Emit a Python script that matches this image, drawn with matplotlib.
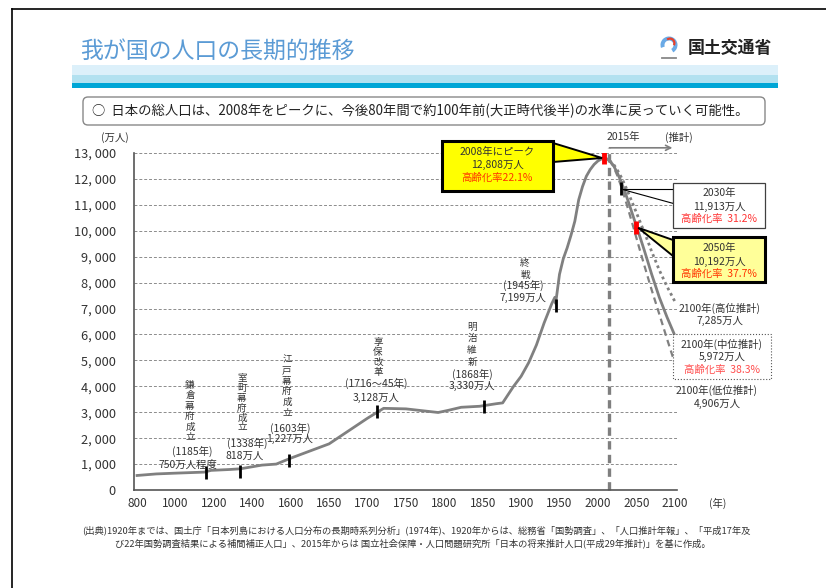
import matplotlib
matplotlib.use("Agg")
import matplotlib.pyplot as plt
import numpy as np
from matplotlib.lines import Line2D
from matplotlib.patches import FancyBboxPatch, Polygon, Rectangle, Wedge
from matplotlib.transforms import Affine2D

plt.rcParams['font.family'] = ['Noto Sans CJK JP', 'DejaVu Sans']

# x axis: the chart spaces these years evenly
tick_years = [800, 1000, 1200, 1400, 1600, 1650, 1700, 1750, 1800, 1850,
              1900, 1950, 2000, 2050, 2100]
y_ticks = list(range(0, 14000, 1000))

# population (万人)
hist_years = [800, 900, 1000, 1150, 1185, 1280, 1338, 1450, 1525, 1600, 1650,
              1700, 1721, 1750, 1792, 1804, 1822, 1846, 1868, 1876, 1890, 1900,
              1910, 1920, 1930, 1940, 1944, 1945, 1950, 1955, 1960, 1965, 1970,
              1975, 1980, 1985, 1990, 1995, 2000, 2005, 2008, 2010, 2015]
hist_pop = [560, 620, 650, 690, 757, 790, 818, 960, 1000, 1227, 1780,
            2769, 3150, 3130, 2990, 3065, 3191, 3230, 3330, 3360, 3990, 4385,
            4918, 5596, 6445, 7193, 7433, 7199, 8320, 8928, 9342, 9828, 10372,
            11194, 11706, 12105, 12361, 12557, 12693, 12777, 12808, 12806, 12709]

proj_years = [2015, 2020, 2025, 2030, 2035, 2040, 2045, 2050, 2055, 2060,
              2065, 2070, 2080, 2090, 2100]
proj_mid = [12709, 12532, 12254, 11913, 11522, 11092, 10642, 10192, 9744, 9284,
            8808, 8323, 7430, 6668, 5972]
proj_high = [12709, 12580, 12360, 12090, 11780, 11430, 11070, 10710, 10340, 9970,
             9600, 9200, 8480, 7850, 7285]
proj_low = [12709, 12490, 12150, 11740, 11270, 10770, 10260, 9740, 9220, 8710,
            8213, 7720, 6780, 5830, 4906]

# historical events (tick position on the line)
event_years = [1160, 1338, 1590, 1712, 1852, 1945]
event_pop = [757, 818, 1227, 3128, 3330, 7199]
event_names = ["鎌倉幕府成立", "室町幕府成立", "江戸幕府成立", "享保改革", "明治維新", "終戦"]
event_dates = ["(1185年)", "(1338年)", "(1603年)", "(1716～45年)", "(1868年)", "(1945年)"]
event_values = ["750万人程度", "818万人", "1,227万人", "3,128万人", "3,330万人", "7,199万人"]

peak_year, peak_pop = 2008, 12808
mark_years = [2030, 2050]
mark_pop = [11913, 10192]

W, H = 826, 588
fig = plt.figure(figsize=(W / 100, H / 100), dpi=100)
fig.patch.set_facecolor('white')
# pixel coords, origin top-left
pix = Affine2D().scale(1 / W, -1 / H).translate(0, 1) + fig.transFigure

TXT = '#333333'


def put(x, y, s, size=7.5, color=TXT, ha='center', **kw):
    fig.text(x, y, s, transform=pix, ha=ha, va='center', fontsize=size,
             color=color, **kw)


ax = fig.add_axes([134 / W, 1 - 490 / H, 543 / W, 337 / H])

ext_years = np.array([600] + tick_years + [2150], dtype=float)
ext_idx = np.arange(-1, len(tick_years) + 1, dtype=float)


def fwd(x):
    return np.interp(x, ext_years, ext_idx)


def inv(i):
    return np.interp(i, ext_idx, ext_years)


ax.set_xscale('function', functions=(fwd, inv))
ax.set_xlim(784, 2103)
ax.set_ylim(0, 13000)
ax.set_xticks(tick_years)
ax.set_xticklabels([str(y) for y in tick_years])
ax.set_yticks(y_ticks)
ax.set_yticklabels([f"{v:,}".replace(',', ', ') for v in y_ticks])
ax.tick_params(axis='both', length=0, colors=TXT)
ax.tick_params(axis='y', pad=13, labelsize=9.2)
ax.tick_params(axis='x', pad=5, labelsize=8.5)
ax.minorticks_off()
for s in ['top', 'right']:
    ax.spines[s].set_visible(False)
for s in ['left', 'bottom']:
    ax.spines[s].set_color('#555555')
    ax.spines[s].set_linewidth(1.2)
ax.grid(axis='y', color='#8c8c8c', lw=0.7, ls=(0, (3, 2)))
ax.set_axisbelow(True)

line_c = '#808080'
ax.plot(hist_years, hist_pop, color=line_c, lw=2, zorder=3)
ax.plot(proj_years, proj_high, color=line_c, lw=2, ls=(0, (1, 1.2)), zorder=3)
ax.plot(proj_years, proj_low, color=line_c, lw=1.6, ls=(0, (3, 2)), zorder=3)
ax.plot(proj_years, proj_mid, color=line_c, lw=2, zorder=3)

# 2015 boundary
ax.plot([2015, 2015], [0, 13200], color='#7f7f7f', lw=2.4,
        ls=(0, (2.5, 1.6)), clip_on=False, zorder=2)
ax.annotate('', xy=(2097, 13200), xytext=(2015, 13200),
            arrowprops=dict(arrowstyle='->', color='#7f7f7f', lw=1.2,
                            mutation_scale=9, shrinkA=0, shrinkB=0),
            annotation_clip=False)

ev = np.array(event_pop)
ax.vlines(event_years, ev - 350, ev + 150, color='black', lw=2, zorder=4)
ax.vlines([peak_year, mark_years[1]], [peak_pop - 250, mark_pop[1] - 330],
          [peak_pop + 250, mark_pop[1] + 170], color='#ff0000', lw=3.5, zorder=5)
ax.vlines([mark_years[0]], [mark_pop[0] - 550], [mark_pop[0] - 20],
          color='black', lw=2, zorder=5)


def to_pix(x, y):
    d = ax.transData.transform((x, y))
    return d[0], H - d[1]


# event labels: x, top char y, char step, date y, value y, date x, value x
ev_layout = [
    (190, 385, 10.6, 451, 465, 192, 188),
    (242, 378, 10.0, 443, 456, 247, 245),
    (287, 360, 10.6, 428, 439, 290, 290),
    (378, 342, 10.0, 383, 398, 376, 376),
    (472, 327, 11.7, 374, 386, 472, 472),
    (525, 263, 12.0, 285, 298, 523, 523),
]
for name, date, val, (x, y0, step, yd, yv, xd, xv) in zip(
        event_names, event_dates, event_values, ev_layout):
    for k, ch in enumerate(name):
        put(x, y0 + k * step, ch, size=6.9)
    put(xd, yd, date)
    put(xv, yv, val)

# peak callout
px, py = to_pix(peak_year, peak_pop)
fig.add_artist(Polygon([(553, 143), (px - 2, py), (553, 162)], closed=True,
                       fc='#ffff00', ec='black', lw=1.4, transform=pix))
fig.add_artist(Rectangle((442, 141), 111, 50, fc='#ffff00', ec='black',
                         lw=2.2, transform=pix))
put(497, 152, "2008年にピーク")
put(497, 165, "12,808万人")
put(497, 178, "高齢化率22.1%", color='#ff3300')

# 2030 callout
mx, my = to_pix(mark_years[0], mark_pop[0])
fig.add_artist(Polygon([(mx + 1, my + 8), (673, my + 8), (673, 203)], closed=True,
                       fc='white', ec='black', lw=0.8, transform=pix))
fig.add_artist(Rectangle((673, 183), 92, 45, fc='white', ec='#404040',
                         lw=0.9, transform=pix))
put(719, 193, "2030年")
put(719, 207, "11,913万人")
put(719, 219, "高齢化率  31.2%", color='#ff3333')

# 2050 callout
mx, my = to_pix(mark_years[1], mark_pop[1])
fig.add_artist(Polygon([(mx + 2, my + 2), (673, 240), (673, 256)], closed=True,
                       fc='#ffff99', ec='black', lw=1.4, transform=pix))
fig.add_artist(Rectangle((673, 237), 92, 45, fc='#ffff99', ec='black',
                         lw=2.2, transform=pix))
put(719, 248, "2050年")
put(719, 262, "10,192万人")
put(719, 274, "高齢化率  37.7%", color='#ff3300')

# 2100 labels
put(720, 308, "2100年(高位推計)")
put(720, 321, "7,285万人")
fig.add_artist(Rectangle((673, 334), 98, 45, fc='white', ec='#555555',
                         lw=0.8, ls=':', transform=pix))
put(722, 344, "2100年(中位推計)")
put(722, 357, "5,972万人")
put(722, 370, "高齢化率  38.3%", color='#ff4d4d')
put(717, 390, "2100年(低位推計)")
put(717, 404, "4,906万人")

put(623, 137, "2015年")
put(679, 137, "(推計)")
put(115, 138, "(万人)")
put(718, 503, "(年)")

# header
put(80, 51, "我が国の人口の長期的推移", size=16.5, color='#5b9bd5', ha='left')
fig.add_artist(Rectangle((72, 65), 706, 10, fc='#dcf0fa', ec='none', transform=pix))
fig.add_artist(Rectangle((72, 75), 706, 8, fc='#b2e1f0', ec='none', transform=pix))
fig.add_artist(Rectangle((72, 83), 706, 4.5, fc='#00a6d6', ec='none', transform=pix))
put(688, 48, "国土交通省", size=12.2, color='#222222', ha='left', weight='bold')
fig.add_artist(Wedge((669, 45), 8.5, 160, 420, width=4, fc='#6aaae6',
                     ec='none', transform=pix))
fig.add_artist(Wedge((670, 43), 5.5, 230, 390, width=2.2, fc='#e8402a',
                     ec='none', transform=pix))
fig.add_artist(Line2D([662, 676], [58, 58], color='#888888', lw=1.3, transform=pix))

# subtitle box
fig.add_artist(FancyBboxPatch((83, 97), 682, 28,
                              boxstyle='round,pad=0,rounding_size=5',
                              fc='white', ec='#888888', lw=1, transform=pix))
put(92, 111, "○  日本の総人口は、2008年をピークに、今後80年間で約100年前(大正時代後半)の水準に戻っていく可能性。",
    size=9.6, color='#222222', ha='left')

# source
put(82, 530, "(出典)1920年までは、国土庁「日本列島における人口分布の長期時系列分析」(1974年)、1920年からは、総務省「国勢調査」、「人口推計年報」、「平成17年及",
    size=6.7, color='#333333', ha='left')
put(115, 543, "び22年国勢調査結果による補間補正人口」、2015年からは 国立社会保障・人口問題研究所「日本の将来推計人口(平成29年推計)」を基に作成。",
    size=6.7, color='#333333', ha='left')

# slide frame
fig.add_artist(Line2D([12, 12], [9, 588], color='black', lw=1.2, transform=pix))
fig.add_artist(Line2D([12, 826], [9, 9], color='black', lw=1.2, transform=pix))

fig.savefig('out.png', dpi=100)
